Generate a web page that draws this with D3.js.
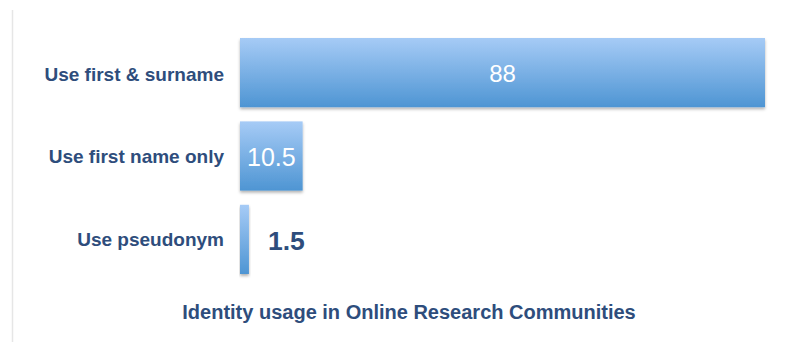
<!DOCTYPE html>
<html>
<head>
    <script src="https://d3js.org/d3.v7.min.js"></script>
    <style>
        body { margin: 0; background: #fff; }
        .label { font-family: "Liberation Sans", Arial, sans-serif; font-weight: bold; fill: #2e4d7c; }
    </style>
</head>
<body>
    <svg width="790" height="342"></svg>
    <script>
        var categories = ["Use first & surname", "Use first name only", "Use pseudonym"];
        var values = [88, 10.5, 1.5];
        var chartTitle = "Identity usage in Online Research Communities";

        var svg = d3.select("svg"),
            margin = {top: 38, right: 25, bottom: 68, left: 240},
            width = +svg.attr("width") - margin.left - margin.right,
            height = +svg.attr("height") - margin.top - margin.bottom;

        var data = categories.map(function(c, i) { return {name: c, value: values[i]}; });

        var x = d3.scaleLinear().domain([0, 88]).range([0, 525]);
        var y = d3.scaleBand().domain(categories).range([0, 236]).paddingInner(0.17).paddingOuter(0);

        var defs = svg.append("defs");
        var grad = defs.append("linearGradient")
            .attr("id", "barGrad")
            .attr("x1", 0).attr("y1", 0).attr("x2", 0).attr("y2", 1);
        grad.append("stop").attr("offset", "0%").attr("stop-color", "#a6cbf6");
        grad.append("stop").attr("offset", "100%").attr("stop-color", "#4e95d3");

        var shadow = defs.append("filter").attr("id", "shadow")
            .attr("x", "-10%").attr("y", "-10%").attr("width", "130%").attr("height", "140%");
        shadow.append("feDropShadow")
            .attr("dx", 0).attr("dy", 2).attr("stdDeviation", 1.5)
            .attr("flood-color", "#000").attr("flood-opacity", 0.3);

        // faint left border
        svg.append("line")
            .attr("x1", 12.5).attr("x2", 12.5)
            .attr("y1", 10).attr("y2", 342)
            .attr("stroke", "#e6e6e6").attr("stroke-width", 1.5);

        var g = svg.append("g")
            .attr("transform", "translate(" + margin.left + "," + margin.top + ")");

        g.selectAll(".bar")
            .data(data)
            .enter().append("rect")
            .attr("class", "bar")
            .attr("x", 0)
            .attr("y", function(d) { return y(d.name); })
            .attr("width", function(d) { return x(d.value); })
            .attr("height", y.bandwidth())
            .attr("fill", "url(#barGrad)")
            .attr("filter", "url(#shadow)");

        // category labels
        g.selectAll(".cat")
            .data(data)
            .enter().append("text")
            .attr("class", "label")
            .attr("x", -16)
            .attr("y", function(d, i) { return y(d.name) + y.bandwidth() / 2 + (i === 0 ? 2 : 0); })
            .attr("dy", "0.35em")
            .attr("text-anchor", "end")
            .style("font-size", "19px")
            .text(function(d) { return d.name; });

        // value labels
        g.selectAll(".val")
            .data(data)
            .enter().append("text")
            .attr("x", function(d) {
                return x(d.value) > 40 ? x(d.value) / 2 : x(d.value) + 19;
            })
            .attr("y", function(d) { return y(d.name) + y.bandwidth() / 2 + 1; })
            .attr("dy", "0.35em")
            .attr("text-anchor", function(d) { return x(d.value) > 40 ? "middle" : "start"; })
            .style("font-family", "'Liberation Sans', Arial, sans-serif")
            .style("font-weight", function(d) { return x(d.value) > 40 ? "normal" : "bold"; })
            .style("font-size", function(d) { return d.value > 50 ? "24px" : (x(d.value) > 40 ? "25px" : "26.5px"); })
            .attr("fill", function(d) { return x(d.value) > 40 ? "#ffffff" : "#2e4d7c"; })
            .text(function(d) { return d.value; });

        svg.append("text")
            .attr("class", "label")
            .attr("x", 409)
            .attr("y", 312)
            .attr("dy", "0.35em")
            .attr("text-anchor", "middle")
            .style("font-size", "20px")
            .text(chartTitle);
    </script>
</body>
</html>
